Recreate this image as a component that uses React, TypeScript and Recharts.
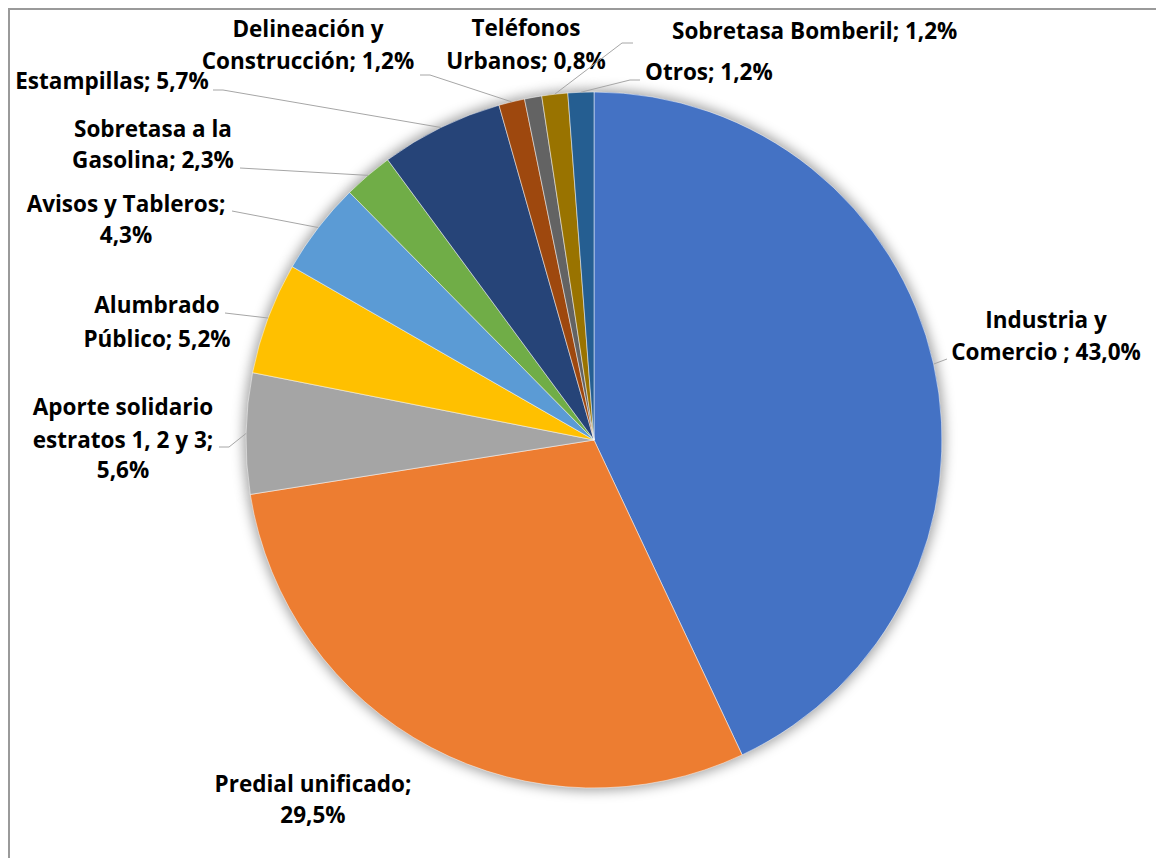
import React from "react";
import { PieChart, Pie, Cell } from "recharts";

// Recaudo por concepto (porcentaje del total)
const categories = [
  "Industria y Comercio",
  "Predial unificado",
  "Aporte solidario estratos 1, 2 y 3",
  "Alumbrado Público",
  "Avisos y Tableros",
  "Sobretasa a la Gasolina",
  "Estampillas",
  "Delineación y Construcción",
  "Teléfonos Urbanos",
  "Sobretasa Bomberil",
  "Otros",
];

const shares = [43.0, 29.5, 5.6, 5.2, 4.3, 2.3, 5.7, 1.2, 0.8, 1.2, 1.2];

// how each label is broken into lines (text as in the original)
const labelLines = [
  ["Industria y", "Comercio ; 43,0%"],
  ["Predial unificado;", "29,5%"],
  ["Aporte solidario", "estratos 1, 2 y 3;", "5,6%"],
  ["Alumbrado", "Público; 5,2%"],
  ["Avisos y Tableros;", "4,3%"],
  ["Sobretasa a la", "Gasolina; 2,3%"],
  ["Estampillas; 5,7%"],
  ["Delineación y", "Construcción; 1,2%"],
  ["Teléfonos", "Urbanos; 0,8%"],
  ["Sobretasa Bomberil; 1,2%"],
  ["Otros; 1,2%"],
];

const colors = [
  "#4472C4",
  "#ED7D31",
  "#A5A5A5",
  "#FFC000",
  "#5B9BD5",
  "#70AD47",
  "#264478",
  "#9E480E",
  "#636363",
  "#997300",
  "#255E91",
];

const data = categories.map((name, i) => ({ name, value: shares[i] }));

// label placement (page coordinates), kept apart from the data
const OFFSET = 10;
type LabelPos = {
  x: number;
  y: number[];
  anchor: "start" | "middle" | "end";
  leader?: number[][];
};
const labelLayout: LabelPos[] = [
  { x: 1046, y: [328, 360], anchor: "middle", leader: [[947, 359]] },
  { x: 313, y: [792, 823], anchor: "middle" },
  { x: 123, y: [415, 448, 478], anchor: "middle", leader: [[229, 447], [219, 447]] },
  { x: 157, y: [313, 347], anchor: "middle", leader: [[225, 313]] },
  { x: 126, y: [212, 243], anchor: "middle", leader: [[232, 211]] },
  { x: 153, y: [137, 168], anchor: "middle", leader: [[240, 168]] },
  { x: 112, y: [89], anchor: "middle", leader: [[223, 90], [213, 90]] },
  { x: 308, y: [37, 69], anchor: "middle", leader: [[430, 75], [420, 75]] },
  { x: 526, y: [36, 69], anchor: "middle" },
  { x: 672, y: [39], anchor: "start", leader: [[622, 43], [633, 43]] },
  { x: 645, y: [80], anchor: "start", leader: [[630, 80], [640, 80]] },
];

const RAD = Math.PI / 180;

const renderLabel = (props: any) => {
  const { index, cx, cy, midAngle, outerRadius } = props;
  const pos = labelLayout[index];
  const lines = labelLines[index];
  const px = cx + outerRadius * Math.cos(-midAngle * RAD);
  const py = cy + outerRadius * Math.sin(-midAngle * RAD);
  const pts = pos.leader
    ? [[px, py], ...pos.leader.map(([x, y]) => [x - OFFSET, y - OFFSET])]
    : null;
  return (
    <g key={`lbl-${index}`}>
      {pts && (
        <polyline
          points={pts.map((p) => p.join(",")).join(" ")}
          fill="none"
          stroke="#a6a6a6"
          strokeWidth={1}
        />
      )}
      <text
        textAnchor={pos.anchor}
        fontFamily="'Open Sans', Lato, sans-serif"
        fontWeight={700}
        fontSize={22.5}
        fill="#000"
      >
        {lines.map((line, i) => (
          <tspan key={i} x={pos.x - OFFSET} y={pos.y[i] - OFFSET}>
            {line}
          </tspan>
        ))}
      </text>
    </g>
  );
};

export default function App() {
  return (
    <div
      style={{
        width: 1146,
        height: 848,
        borderTop: "2px solid #9a9a9a",
        borderLeft: "2px solid #9a9a9a",
        background: "#fff",
      }}
    >
      <PieChart width={1146} height={848}>
        {/* soft shadow underneath */}
        <Pie
          data={data}
          dataKey="value"
          cx={579}
          cy={425}
          outerRadius={351}
          startAngle={90}
          endAngle={-270}
          stroke="none"
          fill="#000"
          fillOpacity={0.35}
          style={{ filter: "blur(6px)" }}
          isAnimationActive={false}
          labelLine={false}
        />
        <Pie
          data={data}
          dataKey="value"
          nameKey="name"
          cx={579}
          cy={425}
          outerRadius={348}
          startAngle={90}
          endAngle={-270}
          stroke="#fff"
          strokeWidth={0.5}
          label={renderLabel}
          labelLine={false}
          isAnimationActive={false}
        >
          {data.map((d, i) => (
            <Cell key={d.name} fill={colors[i]} />
          ))}
        </Pie>
      </PieChart>
    </div>
  );
}
